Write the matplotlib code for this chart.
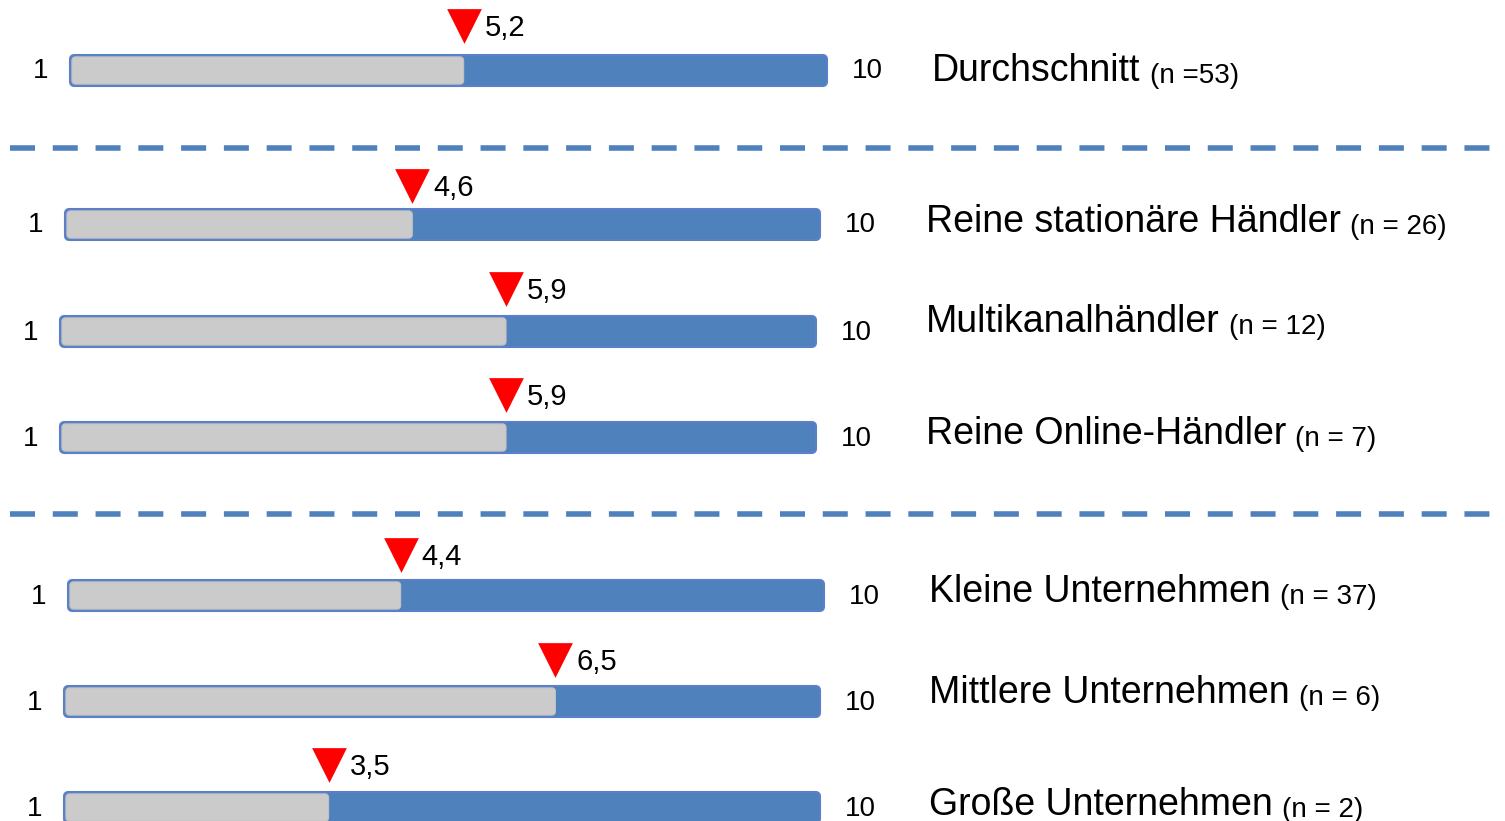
import matplotlib.pyplot as plt
from matplotlib.patches import FancyBboxPatch

plt.rcParams['font.family'] = ['Liberation Sans', 'DejaVu Sans']

labels = ['Durchschnitt', 'Reine stationäre Händler', 'Multikanalhändler',
          'Reine Online-Händler', 'Kleine Unternehmen', 'Mittlere Unternehmen',
          'Große Unternehmen']
n_labels = ['(n =53)', '(n = 26)', '(n = 12)', '(n = 7)', '(n = 37)', '(n = 6)', '(n = 2)']
values = [5.2, 4.6, 5.9, 5.9, 4.4, 6.5, 3.5]
value_labels = ['5,2', '4,6', '5,9', '5,9', '4,4', '6,5', '3,5']
scale_lo, scale_hi = '1', '10'

# layout (pixels)
W, H = 1505, 821
bar_left = [70, 65, 60, 60, 68, 64, 64]
bar_right = [827, 820, 816, 816, 824, 820, 820]
bar_top = [55, 209, 316, 422, 580, 686, 792]
bar_h = 31
marker_gap = [29, 23, 27, 27, 25, 26, 27]
text_x = [932, 926, 926, 926, 929, 929, 929]
text_y = [71, 222, 322, 434, 592, 693, 805]
sep_y = [148, 514]

blue = '#4F81BD'
grey = '#CBCBCB'

fig = plt.figure(figsize=(W / 100, H / 100), dpi=100)
ax0 = fig.add_axes([0, 0, 1, 1])
ax0.set_xlim(0, W)
ax0.set_ylim(H, 0)
ax0.axis('off')

for y in sep_y:
    ax0.plot([10, W], [y, y], color=blue, lw=4, dashes=(4.5, 3.2),
             solid_capstyle='butt', dash_capstyle='butt')

for i in range(len(values)):
    l, r, t = bar_left[i], bar_right[i], bar_top[i]
    ax = fig.add_axes([l / W, 1 - (t + bar_h) / H, (r - l) / W, bar_h / H])
    ax.set_xlim(0, 10)
    ax.set_ylim(0, 1)
    ax.axis('off')
    asp = ((r - l) / 10) / bar_h
    ax.add_patch(FancyBboxPatch((0, 0), 10, 1, boxstyle='round,pad=0,rounding_size=0.06',
                                mutation_aspect=asp, fc=blue, ec='#5B7FC8', lw=1.5,
                                clip_on=False))
    ax.add_patch(FancyBboxPatch((0.025, 0.06), values[i] - 0.025, 0.88,
                                boxstyle='round,pad=0,rounding_size=0.05',
                                mutation_aspect=asp, fc=grey, ec='#C2C2C2', lw=0.8,
                                clip_on=False))
    ty = 1 + marker_gap[i] / bar_h
    ax.scatter([values[i]], [ty], marker='v', s=25 ** 2, color='red',
               linewidths=0, clip_on=False, zorder=5)
    ax.annotate(value_labels[i], xy=(values[i], ty), xytext=(21, -2),
                textcoords='offset pixels', va='center', ha='left', fontsize=21,
                annotation_clip=False)
    ax.annotate(scale_lo, xy=(0, 0.5), xycoords='axes fraction', xytext=(-29, -1),
                textcoords='offset pixels', va='center', ha='center', fontsize=20,
                annotation_clip=False)
    ax.annotate(scale_hi, xy=(1, 0.5), xycoords='axes fraction', xytext=(40, -1),
                textcoords='offset pixels', va='center', ha='center', fontsize=20,
                annotation_clip=False)

    txt = ax0.text(text_x[i], text_y[i], labels[i], fontsize=27, va='center', ha='left')
    ax0.annotate(n_labels[i], xy=(1, 0), xycoords=txt, xytext=(9, 0),
                 textcoords='offset pixels', va='bottom', ha='left', fontsize=20)

fig.savefig('out.png', dpi=100)
